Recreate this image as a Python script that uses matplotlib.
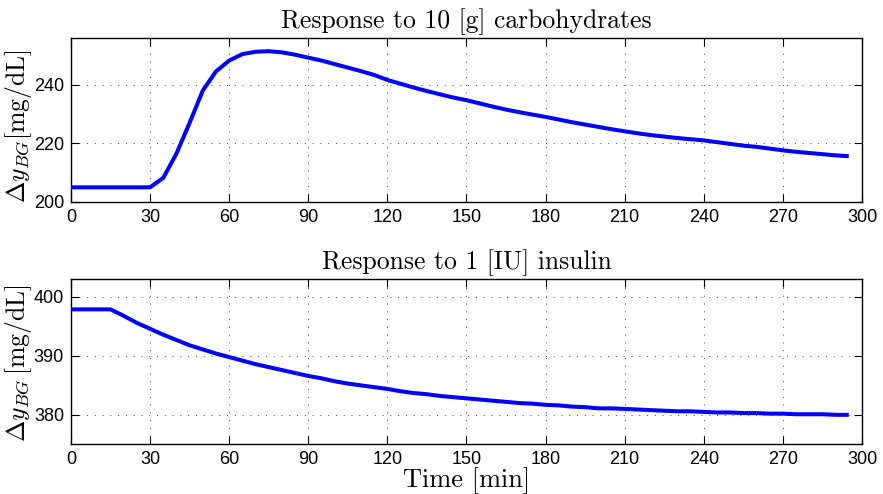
import matplotlib
matplotlib.use("Agg")
import matplotlib.pyplot as plt
import numpy as np

# Time grid [min], sampled every 5 minutes
time_min = list(range(0, 300, 5))

# Blood glucose response to 10 g of carbohydrates [mg/dL]
carb_response = [
    205.0, 205.0, 205.0, 205.0, 205.0, 205.0, 205.0, 208.2, 216.5, 227.0,
    238.0, 244.5, 248.2, 250.4, 251.2, 251.4, 251.0, 250.2, 249.2, 248.2,
    247.0, 245.8, 244.6, 243.3, 241.6, 240.3, 239.0, 237.8, 236.7, 235.6,
    234.7, 233.6, 232.5, 231.5, 230.6, 229.8, 229.0, 228.1, 227.2, 226.4,
    225.6, 224.8, 224.1, 223.4, 222.8, 222.3, 221.8, 221.4, 221.0, 220.4,
    219.8, 219.2, 218.8, 218.2, 217.6, 217.1, 216.7, 216.3, 215.9, 215.6,
]

# Blood glucose response to 1 IU of insulin [mg/dL]
insulin_response = [
    397.9, 397.9, 397.9, 397.9, 396.8, 395.6, 394.6, 393.6, 392.7, 391.8,
    391.1, 390.4, 389.8, 389.2, 388.6, 388.1, 387.6, 387.1, 386.6, 386.2,
    385.7, 385.3, 385.0, 384.7, 384.4, 384.0, 383.7, 383.5, 383.2, 383.0,
    382.8, 382.6, 382.4, 382.2, 382.0, 381.9, 381.7, 381.6, 381.4, 381.3,
    381.1, 381.1, 381.0, 380.9, 380.8, 380.7, 380.6, 380.6, 380.5, 380.4,
    380.4, 380.3, 380.3, 380.2, 380.2, 380.1, 380.1, 380.1, 380.0, 380.0,
]

x_ticks = list(range(0, 301, 30))
carb_yticks = [200, 220, 240]
insulin_yticks = [380, 390, 400]

titles = ["Response to 10 [g] carbohydrates", "Response to 1 [IU] insulin"]
ylabels = [r"$\Delta y_{BG}$[mg/dL]", r"$\Delta y_{BG}\,$[mg/dL]"]

plt.rcParams["mathtext.fontset"] = "cm"
plt.rcParams["axes.unicode_minus"] = False

serif = "cmr10"
sans = "Liberation Sans"

fig = plt.figure(figsize=(8.83, 4.94), dpi=100)
ax_top = fig.add_axes([0.0804, 0.5911, 0.8958, 0.3326])
ax_bot = fig.add_axes([0.0804, 0.1006, 0.8958, 0.3340])

panels = [
    (ax_top, carb_response, (200, 256), carb_yticks, 0.46),
    (ax_bot, insulin_response, (375, 403), insulin_yticks, 0.49),
]

for i, (ax, series, ylim, yticks, ylab_y) in enumerate(panels):
    ax.plot(time_min, series, color=(0, 0, 1), lw=2.9, solid_joinstyle="round",
            solid_capstyle="butt", zorder=3)
    ax.set_xlim(0, 300)
    ax.set_ylim(*ylim)
    ax.set_xticks(x_ticks)
    ax.set_yticks(yticks)
    ax.grid(True, color="0.25", linestyle=(0, (1, 7)), linewidth=0.7)
    ax.tick_params(direction="in", length=6, width=0.8, top=True, right=True,
                   labelsize=13, pad=5)
    for lab in ax.get_xticklabels() + ax.get_yticklabels():
        lab.set_fontfamily(sans)
    for sp in ax.spines.values():
        sp.set_linewidth(1.0)
    ax.set_title(titles[i], fontfamily=serif, fontsize=18.5, pad=7)
    ax.set_ylabel(ylabels[i], fontfamily=serif, fontsize=18.5)
    ax.yaxis.set_label_coords(-0.0474, ylab_y)

ax_bot.set_xlabel("Time [min]", fontfamily=serif, fontsize=19, labelpad=-1)

fig.savefig("out.png", dpi=100)
